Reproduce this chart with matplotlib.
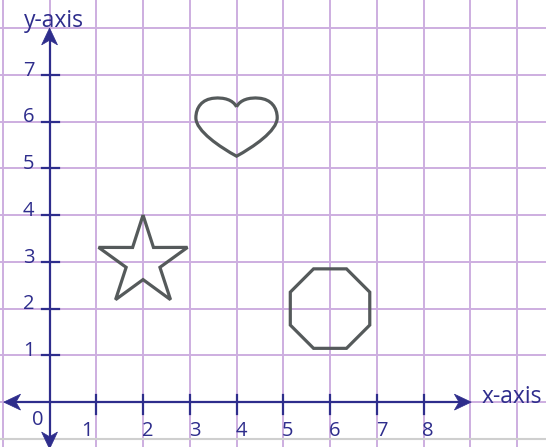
import numpy as np
import matplotlib
matplotlib.use("Agg")
import matplotlib.pyplot as plt
from matplotlib.path import Path
from matplotlib.patches import PathPatch, Polygon, RegularPolygon

# ── data ───────────────────────────────────────────────────────────────────
X_TICKS = [1, 2, 3, 4, 5, 6, 7, 8]
Y_TICKS = [1, 2, 3, 4, 5, 6, 7]
GRID_X = list(range(-1, 11))
GRID_Y = list(range(-1, 9))

STAR_CENTER = (2.0, 3.0)
STAR_OUTER = 1.0
STAR_INNER = 0.38

OCTAGON_CENTER = (6.0, 2.0)
OCTAGON_APOTHEM = 0.85

HEART_X = 4.0
HEART_BOTTOM = 5.26
HEART_TOP = 6.50
HEART_HALF_WIDTH = 0.87

# ── style ──────────────────────────────────────────────────────────────────
NAVY = "#2e2d8c"
GRID = "#cdaee0"
SHAPE = "#555a5b"
FONT = "Open Sans"


def arrow_head(ax, tip, direction, length=0.36, half=0.17, notch=0.1):
    d = np.array(direction, float)
    d /= np.linalg.norm(d)
    n = np.array([-d[1], d[0]])
    tip = np.array(tip, float)
    back = tip - d * length
    pts = [tip, back + n * half, tip - d * (length - notch), back - n * half]
    ax.add_patch(Polygon(pts, closed=True, fc=NAVY, ec=NAVY, lw=0.5, zorder=4))


def star_points(center, r_out, r_in):
    pts = []
    for k in range(10):
        ang = np.pi / 2 + k * np.pi / 5
        r = r_out if k % 2 == 0 else r_in
        pts.append((center[0] + r * np.cos(ang), center[1] + r * np.sin(ang)))
    return pts


def heart_path(cx, bottom, top, hw):
    h = top - bottom
    # unit template: x in [-1, 1], y in [0, 1]
    tpl = [
        (0.00, 0.850),
        (-0.09, 0.976), (-0.32, 1.016), (-0.55, 1.000),
        (-0.85, 0.984), (-1.00, 0.839), (-1.00, 0.661),
        (-1.00, 0.435), (-0.40, 0.153), (0.00, 0.000),
        (0.40, 0.153), (1.00, 0.435), (1.00, 0.661),
        (1.00, 0.839), (0.85, 0.984), (0.55, 1.000),
        (0.32, 1.016), (0.09, 0.976), (0.00, 0.850),
    ]
    verts = [(cx + u * hw, bottom + v * h) for u, v in tpl]
    codes = [Path.MOVETO] + [Path.CURVE4] * (len(verts) - 1)
    return Path(verts, codes)


fig = plt.figure(figsize=(5.46, 4.47), dpi=100)
ax = fig.add_axes([0, 0, 1, 1])
ax.set_xlim(-1.06, 10.62)
ax.set_ylim(-0.96, 8.6)
ax.axis("off")

# grid
for gx in GRID_X:
    ax.axvline(gx, color=GRID, lw=1.4, zorder=1)
for gy in GRID_Y:
    ax.axhline(gy, color=GRID, lw=1.4, zorder=1)
ax.axhline(-0.79, color="#cfcfcf", lw=1.5, zorder=1)

# axes
ax.plot([-0.85, 8.85], [0, 0], color=NAVY, lw=1.6, zorder=3)
ax.plot([0, 0], [-0.85, 7.85], color=NAVY, lw=1.6, zorder=3)
arrow_head(ax, (9.02, 0), (1, 0))
arrow_head(ax, (-0.98, 0), (-1, 0))
arrow_head(ax, (0, 8.0), (0, 1))
arrow_head(ax, (0, -1.0), (0, -1))

for t in X_TICKS:
    ax.plot([t, t], [-0.25, 0.16], color=NAVY, lw=1.6, zorder=3)
    nudge = -0.2 if t == 1 else 0.1
    ax.text(t + nudge, -0.62, str(t), color=NAVY, fontsize=14.5, family=FONT,
            ha="center", va="center")
for t in Y_TICKS:
    ax.plot([-0.17, 0.2], [t, t], color=NAVY, lw=1.6, zorder=3)
    ax.text(-0.45, t + 0.09, str(t), color=NAVY, fontsize=14.5, family=FONT,
            ha="center", va="center")
ax.text(-0.26, -0.39, "0", color=NAVY, fontsize=14.5, family=FONT,
        ha="center", va="center")

ax.text(9.25, 0.1, "x-axis", color=NAVY, fontsize=16.5, family=FONT,
        ha="left", va="center")
ax.text(0.1, 8.15, "y-axis", color=NAVY, fontsize=16.5, family=FONT,
        ha="center", va="center")

# shapes
ax.add_patch(Polygon(star_points(STAR_CENTER, STAR_OUTER, STAR_INNER), closed=True,
                     fill=False, ec=SHAPE, lw=2.3, joinstyle="miter", zorder=5))
ax.add_patch(RegularPolygon(OCTAGON_CENTER, numVertices=8,
                            radius=OCTAGON_APOTHEM / np.cos(np.pi / 8),
                            orientation=np.pi / 8, fill=False, ec=SHAPE, lw=2.3,
                            zorder=5))
ax.add_patch(PathPatch(heart_path(HEART_X, HEART_BOTTOM, HEART_TOP, HEART_HALF_WIDTH),
                       fill=False, ec=SHAPE, lw=2.3, zorder=5))

fig.savefig("out.png", dpi=100)
